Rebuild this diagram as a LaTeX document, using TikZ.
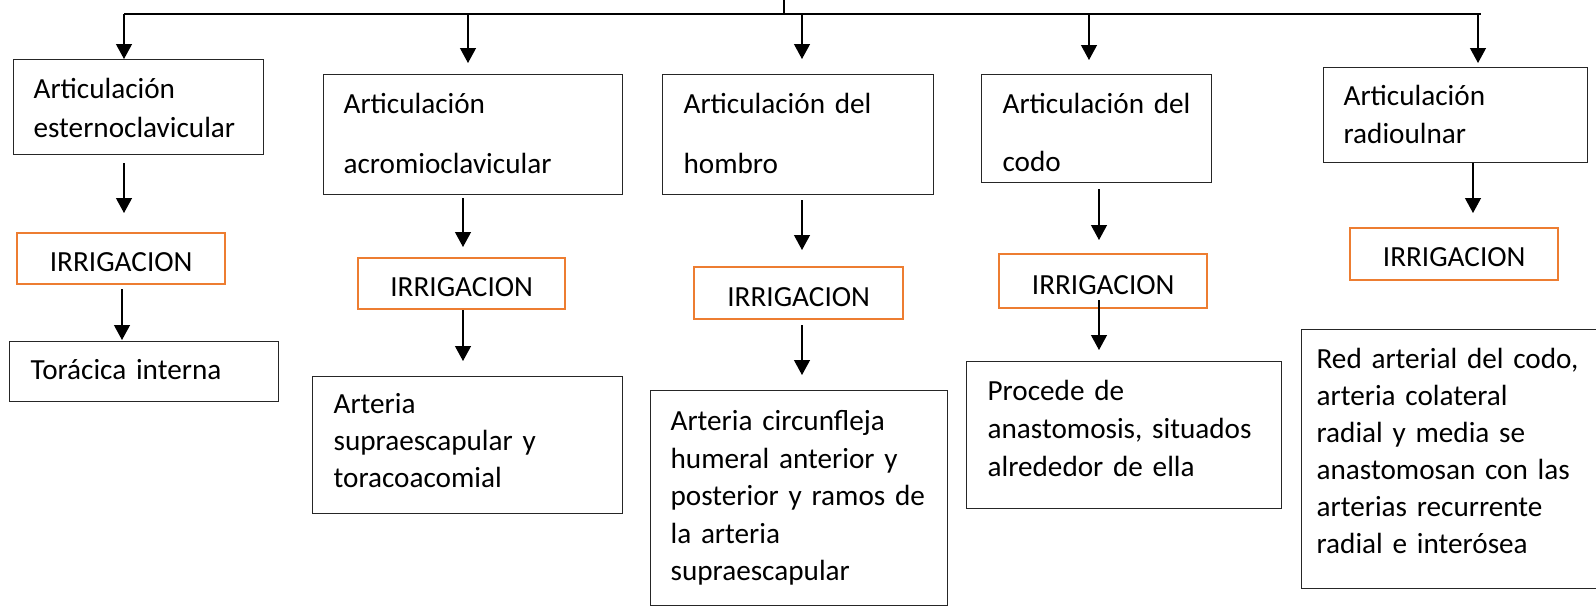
\documentclass[tikz,border=0pt]{standalone}
\usepackage{fontspec}
\setmainfont{Carlito}
\usetikzlibrary{arrows.meta}
\definecolor{irr}{HTML}{ED7D31}
\newcommand\bx[3]{\rule{0pt}{#1}#3\rule[-#2]{0pt}{#2}}
\newcommand\fs[1]{\fontsize{14.6pt}{#1}\selectfont}
\begin{document}
\begin{tikzpicture}[x=0.5pt,y=-0.5pt,
  jbox/.style={draw=black!85, line width=0.6pt, anchor=north west, inner ysep=0pt, align=left},
  obox/.style={draw=irr, line width=1.2pt, anchor=north west, inner ysep=0pt, inner xsep=0pt, align=center, font=\fs{18pt}},
  con/.style={line width=0.6pt, -{Triangle[length=7.5pt,width=8pt]}},
  rail/.style={line width=0.6pt}]
\useasboundingbox (0,0) rectangle (1596,607);
\clip (0,0) rectangle (1596,607);
\fill[white] (0,0) rectangle (1596,607);

% joint boxes
\node[jbox, inner xsep=10pt, text width=105pt, font=\fs{19.5pt}] (b1) at (13,59)
  {\bx{19.5pt}{8.5pt}{Articulaci\'on\\esternoclavicular}};
\node[jbox, inner xsep=10pt, text width=129.5pt, font=\fs{30pt}] (b2) at (323,74)
  {\bx{19.5pt}{10.5pt}{Articulaci\'on\\acromioclavicular}};
\node[jbox, inner xsep=10.5pt, text width=114.5pt, font=\fs{30pt}] (b3) at (662,74)
  {\bx{19.5pt}{10.5pt}{Articulaci\'on~del\\hombro}};
\node[jbox, inner xsep=10.5pt, text width=94pt, font=\fs{29pt}] (b4) at (981,74)
  {\bx{19.5pt}{5.5pt}{Articulaci\'on~del\\codo}};
\node[jbox, inner xsep=10pt, text width=112pt, font=\fs{19pt}] (b5) at (1323,67)
  {\bx{19pt}{9.5pt}{Articulaci\'on\\radioulnar}};

% IRRIGACION boxes
\node[obox, text width=104pt] (o1) at (16,232) {\bx{19pt}{6.5pt}{IRRIGACION}};
\node[obox, text width=103.5pt] (o2) at (357,257) {\bx{19pt}{6.5pt}{IRRIGACION}};
\node[obox, text width=104.5pt] (o3) at (693,266) {\bx{19.5pt}{6.5pt}{IRRIGACION}};
\node[obox, text width=104pt] (o4) at (998,253) {\bx{20pt}{7pt}{IRRIGACION}};
\node[obox, text width=104pt] (o5) at (1349,227) {\bx{19pt}{7pt}{IRRIGACION}};

% artery boxes
\node[jbox, inner xsep=10.5pt, text width=113.5pt, font=\fs{18pt}] (t1) at (9,341)
  {\bx{19pt}{11pt}{Tor\'acica~interna}};
\node[jbox, inner xsep=10.5pt, text width=134pt, font=\fs{18.5pt}] (t2) at (312,376)
  {\bx{18.5pt}{13pt}{Arteria\\supraescapular~y\\toracoacomial}};
\node[jbox, inner xsep=10pt, text width=128.5pt, font=\fs{18.75pt}] (t3) at (650,390)
  {\bx{20pt}{12.5pt}{Arteria~circunfleja\\humeral~anterior~y\\posterior~y~ramos~de\\la~arteria\\supraescapular}};
\node[jbox, inner xsep=10.5pt, text width=136.5pt, font=\fs{19pt}] (t4) at (966,361)
  {\bx{19.5pt}{16pt}{Procede~de\\anastomosis,~situados\\alrededor~de~ella}};
\node[jbox, inner xsep=7.5pt, text width=134.5pt, font=\fs{18.5pt}] (t5) at (1301,329)
  {\bx{19.5pt}{17.5pt}{Red~arterial~del~codo,\\arteria~colateral\\radial~y~media~se\\anastomosan~con~las\\arterias~recurrente\\radial~e~inter\'osea}};

% top distribution rail
\coordinate (root) at (784,0);
\coordinate (rj) at (784,14);
\coordinate (k1) at (124,14);
\coordinate (k2) at (468,14);
\coordinate (k3) at (802,14);
\coordinate (k4) at (1089,14);
\coordinate (k5) at (1478,14);
\coordinate (kr) at (1481,14);
\draw[rail] (root) -- (rj);
\draw[rail] (k1) -- (kr);
\draw[con] (k1) -- (k1 |- b1.north);
\draw[con, shorten >=5.5pt] (k2) -- (k2 |- b2.north);
\draw[con, shorten >=7.5pt] (k3) -- (k3 |- b3.north);
\draw[con, shorten >=7pt] (k4) -- (k4 |- b4.north);
\draw[con, shorten >=2pt] (k5) -- (k5 |- b5.north);

% column x positions for lower arrows
\coordinate (m1) at (124,0);
\coordinate (n1) at (122,0);
\coordinate (m2) at (463,0);
\coordinate (m3) at (802,0);
\coordinate (m4) at (1099,0);
\coordinate (m5) at (1473,0);

\draw[con, shorten <=4pt, shorten >=9.5pt] (b1.south -| m1) -- (o1.north -| m1);
\draw[con, shorten <=2pt, shorten >=0.5pt] (o1.south -| n1) -- (t1.north -| n1);
\draw[con, shorten <=1.5pt, shorten >=5pt] (b2.south -| m2) -- (o2.north -| m2);
\draw[con, shorten >=7.5pt] (o2.south -| m2) -- (t2.north -| m2);
\draw[con, shorten <=2.5pt, shorten >=8pt] (b3.south -| m3) -- (o3.north -| m3);
\draw[con, shorten <=2.5pt, shorten >=7.5pt] (o3.south -| m3) -- (t3.north -| m3);
\draw[con, shorten <=3pt, shorten >=6.5pt] (b4.south -| m4) -- (o4.north -| m4);
\draw[con, shorten <=-4.5pt, shorten >=5.5pt] (o4.south -| m4) -- (t4.north -| m4);
\draw[con, shorten >=7pt] (b5.south -| m5) -- (o5.north -| m5);
\end{tikzpicture}
\end{document}
